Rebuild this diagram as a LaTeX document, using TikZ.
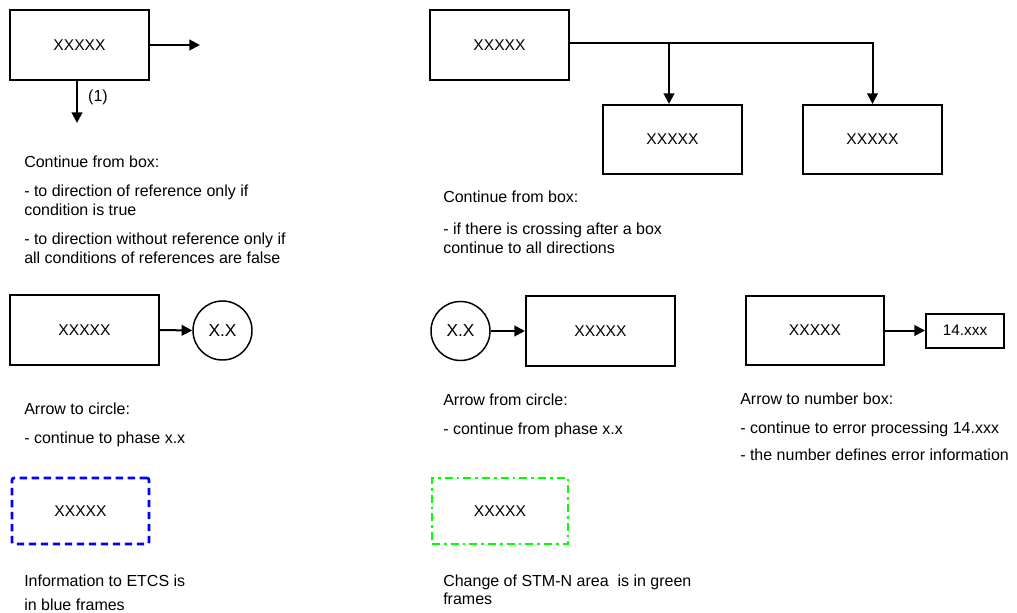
\documentclass[tikz,border=0pt]{standalone}
\usepackage{fontspec}
\setmainfont{Liberation Sans}
\usetikzlibrary{arrows.meta,calc}
\begin{document}
\begin{tikzpicture}[x=0.75pt,y=-0.75pt,
  box/.style={draw,line width=1.5pt,inner sep=0pt,minimum width=104.25pt,minimum height=52.5pt,font=\fontsize{11.7}{13}\selectfont},
  circ/.style={draw,circle,line width=1.1pt,inner sep=0pt,minimum size=44.25pt,font=\fontsize{13}{15}\selectfont},
  numbox/.style={draw,line width=1.5pt,inner sep=0pt,minimum width=58.5pt,minimum height=25.5pt,font=\fontsize{11.5}{13}\selectfont},
  bluebox/.style={draw=blue,line width=2pt,dash pattern=on 5.5pt off 3.5pt,rounded corners=1.5pt,inner sep=0pt,minimum width=102.75pt,minimum height=49.5pt,font=\fontsize{11.7}{13}\selectfont},
  greenbox/.style={draw=green,line width=2pt,dash pattern=on 6pt off 3pt on 2pt off 3pt,inner sep=0pt,minimum width=102pt,minimum height=49.5pt,font=\fontsize{11.7}{13}\selectfont},
  txt/.style={anchor=base west,inner sep=0pt,font=\fontsize{12}{14}\selectfont},
  arr/.style={line width=1.5pt,-{Triangle[length=8pt,width=8pt]}},
  ln/.style={line width=1.5pt}]
\useasboundingbox (0,0) rectangle (1017,613);

% top-left
\node[box] (b1) at (79.5,45) {XXXXX};
\coordinate (e1) at (200,45);
\coordinate (d1) at (77,123);
\draw[arr] (b1.east) -- (e1);
\draw[arr] (b1.south -| d1) -- (d1);
\node[inner sep=0pt,font=\fontsize{12}{14}\selectfont] (ref1) at (98,97) {(1)};
\node[txt] (t1a) at (24,168) {Continue from box:};
\node[txt] (t1b) at (24,196) {- to direction of reference only if};
\node[txt] (t1c) at (24,215) {condition is true};
\node[txt] (t1d) at (24,244) {- to direction without reference only if};
\node[txt] (t1e) at (24,263) {all conditions of references are false};

% top-right
\node[box] (b2) at (499.5,45) {XXXXX};
\node[box,minimum height=51.75pt] (b3) at (672.5,139.5) {XXXXX};
\node[box,minimum height=51.75pt] (b4) at (872.5,139.5) {XXXXX};
\coordinate (j) at (669,43);
\draw[ln] (b2.east |- j) -- (j);
\draw[arr] (j) -| (b4.north);
\draw[arr] (j) -- (j |- b3.north);
\node[txt] (t2a) at (443,202) {Continue from box:};
\node[txt] (t2b) at (443,234) {- if there is crossing after a box};
\node[txt] (t2c) at (443,253) {continue to all directions};

% row 2 left
\node[box,minimum width=111.75pt] (b5) at (84.5,330) {XXXXX};
\node[circ] (c1) at (222.5,330.5) {X.X};
\draw[arr] (b5.east) -- (c1.west);
\node[txt] (t3a) at (24,414) {Arrow to circle:};
\node[txt] (t3b) at (24,443) {- continue to phase x.x};

% row 2 middle
\node[circ] (c2) at (460.5,331) {X.X};
\node[box,minimum width=111.75pt] (b6) at (600.5,331) {XXXXX};
\draw[arr] (c2.east) -- (b6.west);
\node[txt] (t4a) at (443,405) {Arrow from circle:};
\node[txt] (t4b) at (443,434) {- continue from phase x.x};

% row 2 right
\node[box,minimum width=103.5pt,minimum height=51.75pt] (b7) at (815,330.5) {XXXXX};
\node[numbox] (nb) at (965,330.5) {14.xxx};
\draw[arr] (b7.east) -- (nb.west);
\node[txt] (t5a) at (740,404) {Arrow to number box:};
\node[txt] (t5b) at (740,433) {- continue to error processing 14.xxx};
\node[txt] (t5c) at (740,460) {- the number defines error information};

% bottom
\node[bluebox] (bl) at (80.5,511) {XXXXX};
\node[txt] (t6a) at (24,586) {Information to ETCS is};
\node[txt] (t6b) at (24,610) {in blue frames};
\node[greenbox] (gr) at (500,511) {XXXXX};
\node[txt] (t7a) at (443,586) {Change of STM-N area\ \ is in green};
\node[txt] (t7b) at (443,604) {frames};
\end{tikzpicture}
\end{document}
